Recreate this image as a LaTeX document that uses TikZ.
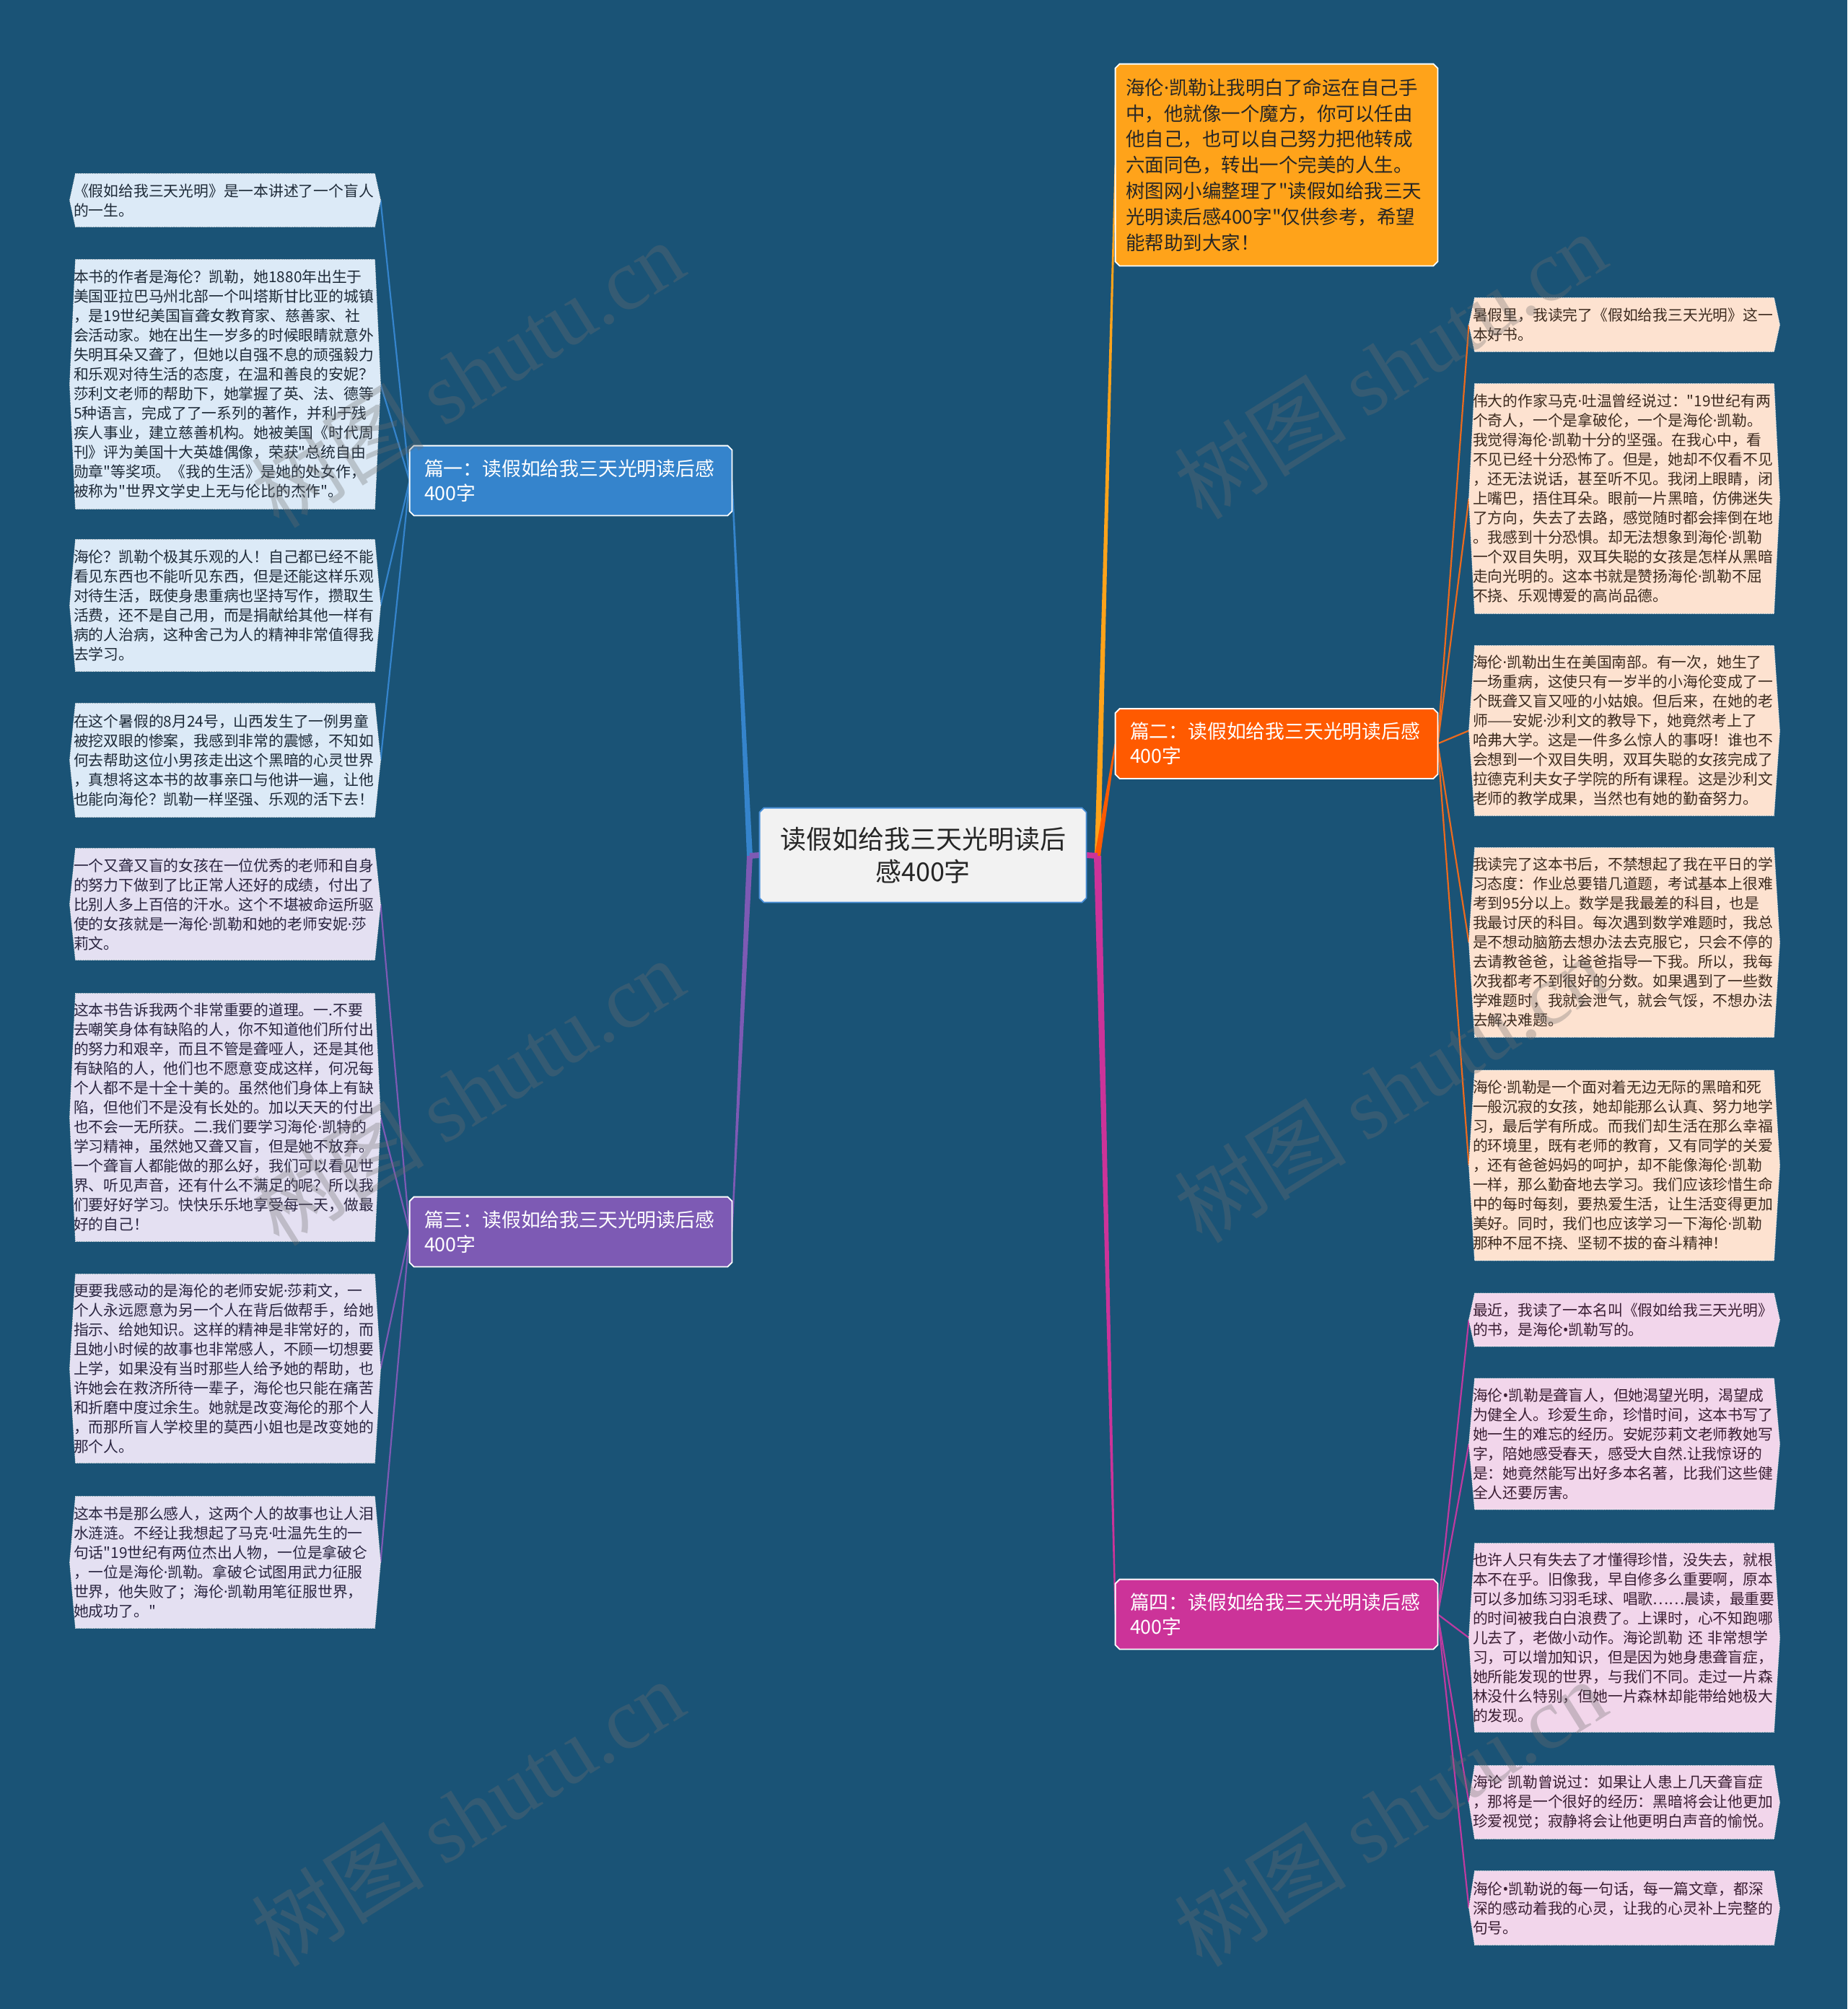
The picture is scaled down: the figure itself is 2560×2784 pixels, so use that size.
\documentclass[tikz,border=0pt]{standalone}
\usepackage{fontspec}
\newfontfamily\cjk{Noto Sans CJK SC}
\newfontfamily\wmlat{Liberation Serif}
\newfontfamily\latn{Noto Sans}
\newcommand\md{{\latn ·}}
\newcommand\bu{{\latn •}}
\usetikzlibrary{calc}
\pgfdeclarelayer{bg}
\pgfdeclarelayer{boxes}
\pgfsetlayers{bg,boxes,main}
\definecolor{bgc}{HTML}{1A5376}
\definecolor{cblue}{HTML}{3584CC}
\definecolor{cpurple}{HTML}{7D5AB4}
\definecolor{corange}{HTML}{FF5A00}
\definecolor{cmag}{HTML}{CC3399}
\definecolor{cyellow}{HTML}{FFA31A}
\definecolor{lorange}{HTML}{EB6A1E}
\definecolor{lmag}{HTML}{BE3AA0}
\definecolor{fblue}{HTML}{DCEAF7}
\definecolor{fpurple}{HTML}{E4E0F2}
\definecolor{fpeach}{HTML}{FDE2D0}
\definecolor{fpink}{HTML}{F2D6EB}
\definecolor{tblue}{HTML}{1E2A38}
\definecolor{tpurple}{HTML}{2A2540}
\definecolor{tpeach}{HTML}{3D2B1F}
\definecolor{tpink}{HTML}{3A1E33}
\definecolor{cfill}{HTML}{F2F2F2}
\definecolor{cline}{HTML}{4A90D9}
\definecolor{wmgray}{HTML}{6E6E6E}
\newcommand\hexbox[2]{\begin{pgfonlayer}{boxes}\path[hexline,fill=#2] ([xshift=4pt]#1.north west) -- ([xshift=-4pt]#1.north east) -- (#1.east) -- ([xshift=-4pt]#1.south east) -- ([xshift=4pt]#1.south west) -- (#1.west) -- cycle;\end{pgfonlayer}}
\newcommand\chambox[3]{\begin{pgfonlayer}{boxes}\path[fill=#2,draw=#3,line width=0.9pt] ([xshift=3pt]#1.north west) -- ([xshift=-3pt]#1.north east) -- ([yshift=-3pt]#1.north east) -- ([yshift=3pt]#1.south east) -- ([xshift=-3pt]#1.south east) -- ([xshift=3pt]#1.south west) -- ([yshift=3pt]#1.south west) -- ([yshift=-3pt]#1.north west) -- cycle;\end{pgfonlayer}}
\newcommand\taper[4]{\begin{pgfonlayer}{bg}\fill[#3] ($(#1)+(-#4,0)$) -- ($(#1)+(#4,0)$) -- ($(#2)+(1,0)$) -- ($(#2)+(-1,0)$) -- cycle;\end{pgfonlayer}}
\newcommand\leafline[3]{\begin{pgfonlayer}{bg}\draw[conn,#3] (#1) -- (#2);\end{pgfonlayer}}
\begin{document}
\begin{tikzpicture}[x=0.5pt,y=-0.5pt,
  hexline/.style={draw=white!88!gray,line width=0.5pt,dash pattern=on 0.6pt off 0.6pt},
  leaf/.style={text width=210pt,inner xsep=2.5pt,inner ysep=0pt,align=left,font=\cjk\fontsize{10.4}{13.5}\selectfont},
  branch/.style={text width=203pt,inner xsep=10pt,inner ysep=0pt,minimum height=48pt,align=left,text=white,font=\cjk\fontsize{13.4}{17}\selectfont},
  conn/.style={line width=1.1pt},
  wm/.style={text=wmgray,opacity=0.32,font=\fontsize{60}{60}\selectfont,inner sep=0pt}]
\begin{pgfonlayer}{bg}
\fill[bgc] (0,0) rectangle (2560,2784);
\end{pgfonlayer}
\useasboundingbox (0,0) rectangle (2560,2784);

% centre and branches
\node[text width=216pt,inner xsep=5pt,inner ysep=0pt,minimum height=65pt,align=center,text=black!85,font=\cjk\fontsize{18}{22.5}\selectfont] (C) at (1279,1185) {读假如给我三天光明读后\\感400字};
\chambox{C}{cfill}{cline}
\coordinate (CL) at (1039,1186);
\coordinate (CR) at (1521,1186);

\node[branch] (B1) at (791,666) {篇一：读假如给我三天光明读后感\\400字};
\chambox{B1}{cblue}{white}
\node[branch] (B3) at (791,1707) {篇三：读假如给我三天光明读后感\\400字};
\chambox{B3}{cpurple}{white}
\node[branch] (B2) at (1769,1030.5) {篇二：读假如给我三天光明读后感\\400字};
\chambox{B2}{corange}{white}
\node[branch] (B4) at (1769,2237) {篇四：读假如给我三天光明读后感\\400字};
\chambox{B4}{cmag}{white}
\node[text width=209pt,inner xsep=7pt,inner ysep=0pt,minimum height=139.5pt,align=left,text=black!85,font=\cjk\fontsize{13.25}{17.9}\selectfont] (T) at (1769,228.5) {海伦\md{}凯勒让我明白了命运在自己手\\中，他就像一个魔方，你可以任由\\他自己，也可以自己努力把他转成\\六面同色，转出一个完美的人生。\\树图网小编整理了"读假如给我三天\\光明读后感400字"仅供参考，希望\\能帮助到大家！};
\chambox{T}{cyellow}{white}

% main connectors
\taper{CL}{B1.east}{cblue}{4}
\taper{CL}{B3.east}{cpurple}{4}
\taper{CR}{T.west}{cyellow}{4}
\taper{CR}{B2.west}{corange}{4}
\taper{CR}{B4.west}{cmag}{5}
\begin{pgfonlayer}{bg}
\draw[cpurple,line width=4pt] (C.west) -- (CL);
\draw[cmag,line width=4pt] (C.east) -- (CR);
\end{pgfonlayer}

% left leaves, part one
\node[leaf,text=tblue,minimum height=36.5pt] (L1) at (312,277.5) {《假如给我三天光明》是一本讲述了一个盲人\\的一生。};
\node[leaf,text=tblue,minimum height=172.5pt] (L2) at (312,532.5) {本书的作者是海伦？凯勒，她1880年出生于\\美国亚拉巴马州北部一个叫塔斯甘比亚的城镇\\，是19世纪美国盲聋女教育家、慈善家、社\\会活动家。她在出生一岁多的时候眼睛就意外\\失明耳朵又聋了，但她以自强不息的顽强毅力\\和乐观对待生活的态度，在温和善良的安妮？\\莎利文老师的帮助下，她掌握了英、法、德等\\5种语言，完成了了一系列的著作，并利于残\\疾人事业，建立慈善机构。她被美国《时代周\\刊》评为美国十大英雄偶像，荣获"总统自由\\勋章"等奖项。《我的生活》是她的处女作，\\被称为"世界文学史上无与伦比的杰作"。};
\node[leaf,text=tblue,minimum height=91pt] (L3) at (312,839) {海伦？凯勒个极其乐观的人！自己都已经不能\\看见东西也不能听见东西，但是还能这样乐观\\对待生活，既使身患重病也坚持写作，攒取生\\活费，还不是自己用，而是捐献给其他一样有\\病的人治病，这种舍己为人的精神非常值得我\\去学习。};
\node[leaf,text=tblue,minimum height=78.5pt] (L4) at (312,1053.5) {在这个暑假的8月24号，山西发生了一例男童\\被挖双眼的惨案，我感到非常的震憾，不知如\\何去帮助这位小男孩走出这个黑暗的心灵世界\\，真想将这本书的故事亲口与他讲一遍，让他\\也能向海伦？凯勒一样坚强、乐观的活下去！};
\foreach \n in {L1,L2,L3,L4} {\hexbox{\n}{fblue}\leafline{B1.west}{\n.east}{cblue}}

% left leaves, part three
\node[leaf,text=tpurple,minimum height=77pt] (L5) at (312,1253) {一个又聋又盲的女孩在一位优秀的老师和自身\\的努力下做到了比正常人还好的成绩，付出了\\比别人多上百倍的汗水。这个不堪被命运所驱\\使的女孩就是一海伦\md{}凯勒和她的老师安妮\md{}莎\\莉文。};
\node[leaf,text=tpurple,minimum height=171.5pt] (L6) at (312,1548.5) {这本书告诉我两个非常重要的道理。一.不要\\去嘲笑身体有缺陷的人，你不知道他们所付出\\的努力和艰辛，而且不管是聋哑人，还是其他\\有缺陷的人，他们也不愿意变成这样，何况每\\个人都不是十全十美的。虽然他们身体上有缺\\陷，但他们不是没有长处的。加以天天的付出\\也不会一无所获。二.我们要学习海伦\md{}凯特的\\学习精神，虽然她又聋又盲，但是她不放弃。\\一个聋盲人都能做的那么好，我们可以看见世\\界、听见声音，还有什么不满足的呢？所以我\\们要好好学习。快快乐乐地享受每一天，做最\\好的自己！};
\node[leaf,text=tpurple,minimum height=130.5pt] (L7) at (312,1896.5) {更要我感动的是海伦的老师安妮\md{}莎莉文，一\\个人永远愿意为另一个人在背后做帮手，给她\\指示、给她知识。这样的精神是非常好的，而\\且她小时候的故事也非常感人，不顾一切想要\\上学，如果没有当时那些人给予她的帮助，也\\许她会在救济所待一辈子，海伦也只能在痛苦\\和折磨中度过余生。她就是改变海伦的那个人\\，而那所盲人学校里的莫西小姐也是改变她的\\那个人。};
\node[leaf,text=tpurple,minimum height=91pt] (L8) at (312,2165) {这本书是那么感人，这两个人的故事也让人泪\\水涟涟。不经让我想起了马克\md{}吐温先生的一\\句话"19世纪有两位杰出人物，一位是拿破仑\\，一位是海伦\md{}凯勒。拿破仑试图用武力征服\\世界，他失败了；海伦\md{}凯勒用笔征服世界，\\她成功了。"};
\foreach \n in {L5,L6,L7,L8} {\hexbox{\n}{fpurple}\leafline{B3.west}{\n.east}{cpurple}}

% right leaves, part two
\node[leaf,text=tpeach,minimum height=37pt] (R1) at (2251,450) {暑假里，我读完了《假如给我三天光明》这一\\本好书。};
\node[leaf,text=tpeach,minimum height=159pt] (R2) at (2251,691) {伟大的作家马克\md{}吐温曾经说过："19世纪有两\\个奇人，一个是拿破伦，一个是海伦\md{}凯勒。\\我觉得海伦\md{}凯勒十分的坚强。在我心中，看\\不见已经十分恐怖了。但是，她却不仅看不见\\，还无法说话，甚至听不见。我闭上眼睛，闭\\上嘴巴，捂住耳朵。眼前一片黑暗，仿佛迷失\\了方向，失去了去路，感觉随时都会摔倒在地\\。我感到十分恐惧。却无法想象到海伦\md{}凯勒\\一个双目失明，双耳失聪的女孩是怎样从黑暗\\走向光明的。这本书就是赞扬海伦\md{}凯勒不屈\\不挠、乐观博爱的高尚品德。};
\node[leaf,text=tpeach,minimum height=117.5pt] (R3) at (2251,1012.5) {海伦\md{}凯勒出生在美国南部。有一次，她生了\\一场重病，这使只有一岁半的小海伦变成了一\\个既聋又盲又哑的小姑娘。但后来，在她的老\\师——安妮\md{}沙利文的教导下，她竟然考上了\\哈弗大学。这是一件多么惊人的事呀！谁也不\\会想到一个双目失明，双耳失聪的女孩完成了\\拉德克利夫女子学院的所有课程。这是沙利文\\老师的教学成果，当然也有她的勤奋努力。};
\node[leaf,text=tpeach,minimum height=131pt] (R4) at (2251,1306) {我读完了这本书后，不禁想起了我在平日的学\\习态度：作业总要错几道题，考试基本上很难\\考到95分以上。数学是我最差的科目，也是\\我最讨厌的科目。每次遇到数学难题时，我总\\是不想动脑筋去想办法去克服它，只会不停的\\去请教爸爸，让爸爸指导一下我。所以，我每\\次我都考不到很好的分数。如果遇到了一些数\\学难题时，我就会泄气，就会气馁，不想办法\\去解决难题。};
\node[leaf,text=tpeach,minimum height=131.5pt] (R5) at (2251,1615) {海伦\md{}凯勒是一个面对着无边无际的黑暗和死\\一般沉寂的女孩，她却能那么认真、努力地学\\习，最后学有所成。而我们却生活在那么幸福\\的环境里，既有老师的教育，又有同学的关爱\\，还有爸爸妈妈的呵护，却不能像海伦\md{}凯勒\\一样，那么勤奋地去学习。我们应该珍惜生命\\中的每时每刻，要热爱生活，让生活变得更加\\美好。同时，我们也应该学习一下海伦\md{}凯勒\\那种不屈不挠、坚韧不拔的奋斗精神！};
\foreach \n in {R1,R2,R3,R4,R5} {\hexbox{\n}{fpeach}\leafline{B2.east}{\n.west}{lorange}}

% right leaves, part four
\node[leaf,text=tpink,minimum height=36.5pt] (R6) at (2251,1829) {最近，我读了一本名叫《假如给我三天光明》\\的书，是海伦\bu{}凯勒写的。};
\node[leaf,text=tpink,minimum height=90.5pt] (R7) at (2251,2001) {海伦\bu{}凯勒是聋盲人，但她渴望光明，渴望成\\为健全人。珍爱生命，珍惜时间，这本书写了\\她一生的难忘的经历。安妮莎莉文老师教她写\\字，陪她感受春天，感受大自然.让我惊讶的\\是：她竟然能写出好多本名著，比我们这些健\\全人还要厉害。};
\node[leaf,text=tpink,minimum height=130.5pt] (R8) at (2251,2269.5) {也许人只有失去了才懂得珍惜，没失去，就根\\本不在乎。旧像我，早自修多么重要啊，原本\\可以多加练习羽毛球、唱歌……晨读，最重要\\的时间被我白白浪费了。上课时，心不知跑哪\\儿去了，老做小动作。海论凯勒 还 非常想学\\习，可以增加知识，但是因为她身患聋盲症，\\她所能发现的世界，与我们不同。走过一片森\\林没什么特别，但她一片森林却能带给她极大\\的发现。};
\node[leaf,text=tpink,minimum height=50.5pt] (R9) at (2251,2497.5) {海论 凯勒曾说过：如果让人患上几天聋盲症\\，那将是一个很好的经历：黑暗将会让他更加\\珍爱视觉；寂静将会让他更明白声音的愉悦。};
\node[leaf,text=tpink,minimum height=51pt] (R10) at (2251,2644) {海伦\bu{}凯勒说的每一句话，每一篇文章，都深\\深的感动着我的心灵，让我的心灵补上完整的\\句号。};
\foreach \n in {R6,R7,R8,R9,R10} {\hexbox{\n}{fpink}\leafline{B4.east}{\n.west}{lmag}}

% watermarks
\node[wm,rotate=32] (wm1) at (648,518) {\cjk 树图\ \wmlat shutu.cn};
\node[wm,rotate=32] (wm2) at (1926,506) {\cjk 树图\ \wmlat shutu.cn};
\node[wm,rotate=32] (wm3) at (648,1513) {\cjk 树图\ \wmlat shutu.cn};
\node[wm,rotate=32] (wm4) at (1926,1509) {\cjk 树图\ \wmlat shutu.cn};
\node[wm,rotate=32] (wm5) at (648,2512) {\cjk 树图\ \wmlat shutu.cn};
\node[wm,rotate=32] (wm6) at (1926,2512) {\cjk 树图\ \wmlat shutu.cn};
\end{tikzpicture}
\end{document}
